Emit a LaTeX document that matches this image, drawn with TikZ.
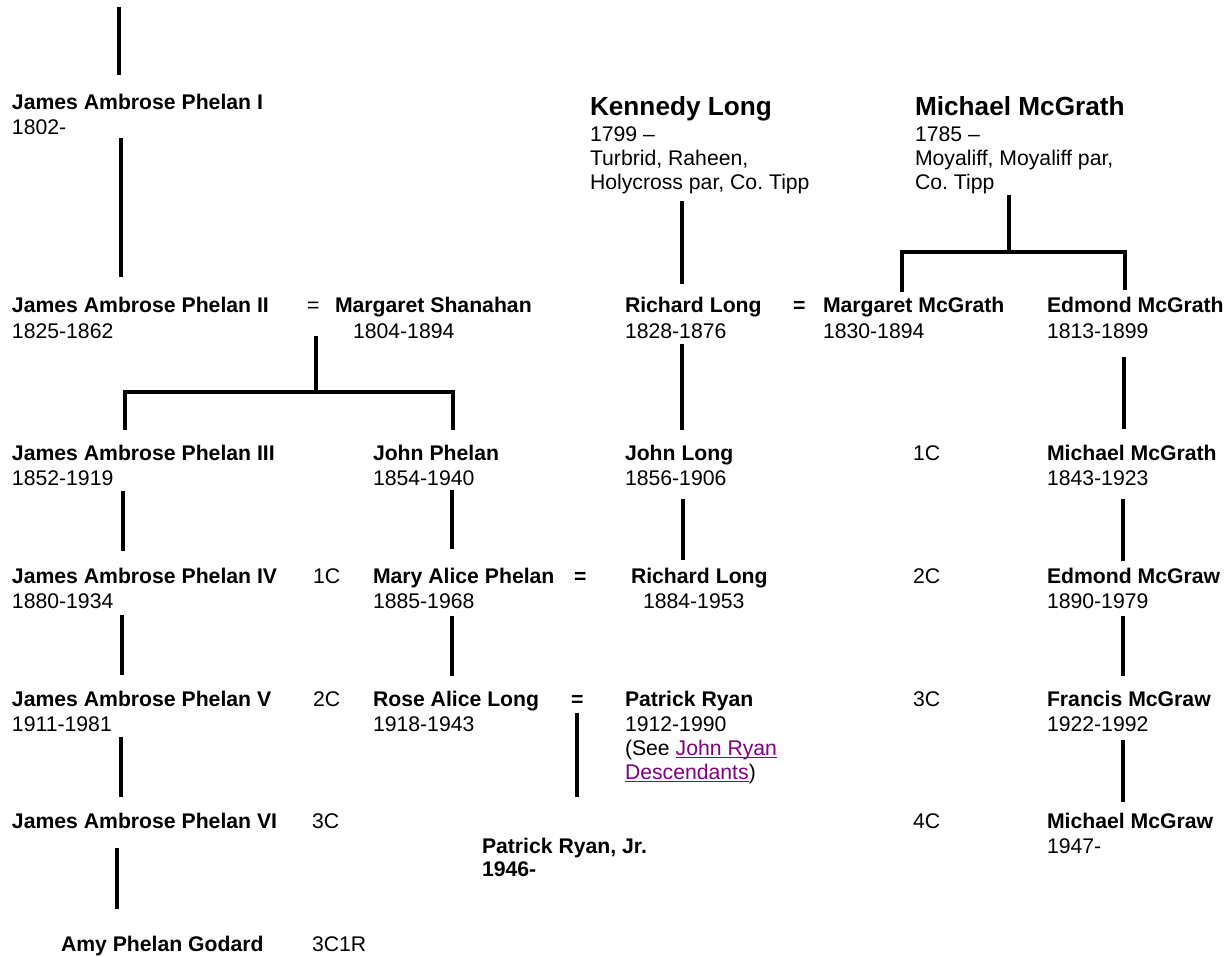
\documentclass[tikz,border=0pt]{standalone}
\usepackage{fontspec}
\setmainfont{Liberation Sans}
\definecolor{linkpurple}{HTML}{800080}
\newsavebox{\lnkbox}
\newcommand{\lnkul}[1]{\sbox{\lnkbox}{\color{linkpurple}#1}{\color{linkpurple}\rlap{\rule[-3.4pt]{\wd\lnkbox}{1.5pt}}}\usebox{\lnkbox}}
\frenchspacing
\begin{document}
\begin{tikzpicture}[x=1pt,y=-1pt,
  txt/.style={anchor=base west, inner sep=0pt, outer sep=0pt, font=\fontsize{21.2}{24.5}\selectfont},
  nm/.style={txt, font=\fontsize{21.2}{24.5}\selectfont\bfseries},
  big/.style={txt, font=\fontsize{26.2}{30}\selectfont\bfseries},
  bar/.style={line width=4.6pt, line cap=butt, line join=miter}]
\fill[white] (0,0) rectangle (1231,957);
\useasboundingbox (0,0) rectangle (1231,957);

% ---- Phelan column ----
\node[nm]  (p1)  at (12,110) {James Ambrose Phelan I};
\node[txt] (p1d) at (12,135) {1802-};
\node[nm]  (p2)  at (12,313) {James Ambrose Phelan II};
\node[txt] (p2d) at (12,338) {1825-1862};
\node[txt] (eq1) at (307,313) {=};
\node[nm]  (ms)  at (335,313) {Margaret Shanahan};
\node[txt] (msd) at (353,338) {1804-1894};
\node[nm]  (p3)  at (12,460) {James Ambrose Phelan III};
\node[txt] (p3d) at (12,485) {1852-1919};
\node[nm]  (p4)  at (12,583) {James Ambrose Phelan IV};
\node[txt] (p4d) at (12,608) {1880-1934};
\node[txt] (c1l) at (313,583) {1C};
\node[nm]  (p5)  at (12,706) {James Ambrose Phelan V};
\node[txt] (p5d) at (12,731) {1911-1981};
\node[txt] (c2l) at (313,706) {2C};
\node[nm]  (p6)  at (12,828) {James Ambrose Phelan VI};
\node[txt] (c3l) at (312,828) {3C};
\node[nm]  (amy) at (61,951) {Amy Phelan Godard};
\node[txt] (c3r1) at (312,951) {3C1R};

% ---- John Phelan column ----
\node[nm]  (jp)   at (373,460) {John Phelan};
\node[txt] (jpd)  at (373,485) {1854-1940};
\node[nm]  (map)  at (373,583) {Mary Alice Phelan};
\node[txt] (mapd) at (373,608) {1885-1968};
\node[nm]  (eq3)  at (574,583) {=};
\node[nm]  (ral)  at (373,706) {Rose Alice Long};
\node[txt] (rald) at (373,731) {1918-1943};
\node[nm]  (eq4)  at (571,706) {=};
\node[nm]  (prj)  at (482,853) {Patrick Ryan, Jr.};
\node[nm]  (prjd) at (482,876) {1946-};

% ---- Long column ----
\node[big] (kl)  at (590,116) {Kennedy Long};
\node[txt] (kl1) at (590,142) {1799 –};
\node[txt] (kl2) at (590,166) {Turbrid, Raheen,};
\node[txt] (kl3) at (590,190) {Holycross par, Co. Tipp};
\node[nm]  (rl1)  at (625,313) {Richard Long};
\node[txt] (rl1d) at (625,338) {1828-1876};
\node[nm]  (eq2)  at (793,313) {=};
\node[nm]  (jl)   at (625,460) {John Long};
\node[txt] (jld)  at (625,485) {1856-1906};
\node[nm]  (rl2)  at (631,583) {Richard Long};
\node[txt] (rl2d) at (643,608) {1884-1953};
\node[nm]  (pr)   at (625,706) {Patrick Ryan};
\node[txt] (prd)  at (625,731) {1912-1990};
\node[txt] (prs1) at (625,755) {(See \lnkul{John Ryan}};
\node[txt] (prs2) at (625,779) {\lnkul{Descendants})};

% ---- McGrath column ----
\node[big] (mm)  at (915,116) {Michael McGrath};
\node[txt] (mm1) at (915,142) {1785 –};
\node[txt] (mm2) at (915,166) {Moyaliff, Moyaliff par,};
\node[txt] (mm3) at (915,190) {Co. Tipp};
\node[nm]  (mg)   at (823,313) {Margaret McGrath};
\node[txt] (mgd)  at (823,338) {1830-1894};
\node[nm]  (em)   at (1047,313) {Edmond McGrath};
\node[txt] (emd)  at (1047,338) {1813-1899};
\node[txt] (c1r)  at (913,460) {1C};
\node[nm]  (mmc)  at (1047,460) {Michael McGrath};
\node[txt] (mmcd) at (1047,485) {1843-1923};
\node[txt] (c2r)  at (913,583) {2C};
\node[nm]  (emg)  at (1047,583) {Edmond McGraw};
\node[txt] (emgd) at (1047,608) {1890-1979};
\node[txt] (c3r)  at (913,706) {3C};
\node[nm]  (fmg)  at (1047,706) {Francis McGraw};
\node[txt] (fmgd) at (1047,731) {1922-1992};
\node[txt] (c4r)  at (913,828) {4C};
\node[nm]  (mmg)  at (1047,828) {Michael McGraw};
\node[txt] (mmgd) at (1047,853) {1947-};

% ---- connector end points ----
\coordinate (a1) at (119,7);    \coordinate (a2) at (119,75);
\coordinate (b1) at (121,138);  \coordinate (b2) at (121,277);
\coordinate (s1) at (316,336);  \coordinate (s2) at (316,392);
\coordinate (k1) at (125,430);  \coordinate (k2) at (125,392);
\coordinate (k3) at (453,392);  \coordinate (k4) at (453,430);
\coordinate (c1) at (123,491);  \coordinate (c2) at (123,551);
\coordinate (d1) at (122,615);  \coordinate (d2) at (122,675);
\coordinate (e1) at (121,737);  \coordinate (e2) at (121,797);
\coordinate (f1) at (117,848);  \coordinate (f2) at (117,909);
\coordinate (g1) at (452,490);  \coordinate (g2) at (452,549);
\coordinate (h1) at (452,616);  \coordinate (h2) at (452,676);
\coordinate (i1) at (577,713);  \coordinate (i2) at (577,797);
\coordinate (j1) at (682,201);  \coordinate (j2) at (682,284);
\coordinate (l1) at (682,344);  \coordinate (l2) at (682,430);
\coordinate (m1) at (683,499);  \coordinate (m2) at (683,560);
\coordinate (n1) at (1009,195); \coordinate (n2) at (1009,252);
\coordinate (q1) at (902,292);  \coordinate (q2) at (902,252);
\coordinate (q3) at (1125,252); \coordinate (q4) at (1125,290);
\coordinate (r1) at (1124,357); \coordinate (r2) at (1124,429);
\coordinate (t1) at (1123,499); \coordinate (t2) at (1123,561);
\coordinate (u1) at (1123,616); \coordinate (u2) at (1123,676);
\coordinate (v1) at (1123,740); \coordinate (v2) at (1123,802);

\draw[bar] (a1) -- (a2);
\draw[bar] (b1) -- (b2);
\draw[bar] (s1) -- (s2);
\draw[bar] (k1) -- (k2) -- (k3) -- (k4);
\draw[bar] (c1) -- (c2);
\draw[bar] (d1) -- (d2);
\draw[bar] (e1) -- (e2);
\draw[bar] (f1) -- (f2);
\draw[bar] (g1) -- (g2);
\draw[bar] (h1) -- (h2);
\draw[bar] (i1) -- (i2);
\draw[bar] (j1) -- (j2);
\draw[bar] (l1) -- (l2);
\draw[bar] (m1) -- (m2);
\draw[bar] (n1) -- (n2);
\draw[bar] (q1) -- (q2) -- (q3) -- (q4);
\draw[bar] (r1) -- (r2);
\draw[bar] (t1) -- (t2);
\draw[bar] (u1) -- (u2);
\draw[bar] (v1) -- (v2);
\end{tikzpicture}
\end{document}
